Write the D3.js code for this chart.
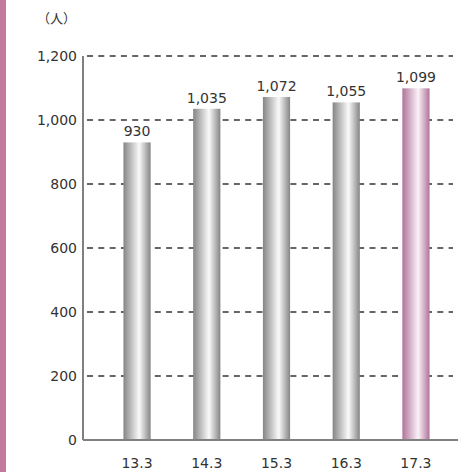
<!DOCTYPE html>
<html>
<head>
<meta charset="utf-8">
<script src="https://cdn.jsdelivr.net/npm/d3@7"></script>
<style>
  body { margin: 0; background: #fff; }
  svg text { font-family: "DejaVu Sans", sans-serif; fill: #333; }
</style>
</head>
<body>
<div class="canvas"></div>
<script>
const categories = ['13.3', '14.3', '15.3', '16.3', '17.3']
const values = [930, 1035, 1072, 1055, 1099]
const yTicks = [0, 200, 400, 600, 800, 1000, 1200]
const unitLabel = '（人）'

const svg = d3.select('.canvas')
  .append('svg')
    .attr('width', 458)
    .attr('height', 472)

// pink stripe on the left
svg.append('rect')
  .attr('x', 0).attr('y', 0)
  .attr('width', 6).attr('height', 472)
  .attr('fill', '#c47a9c')

const margin = { top: 56, right: 0, bottom: 32, left: 83 }
const graphHeight = 472 - margin.top - margin.bottom

const graph = svg.append('g')
  .attr('transform', `translate(${margin.left},${margin.top})`)

const y = d3.scaleLinear()
  .domain([0, 1200])
  .range([graphHeight, 0])

const x = d3.scaleBand()
  .domain(categories)
  .range([0, 387])
  .paddingInner(0.61)
  .paddingOuter(0.58)

// gradients
const defs = svg.append('defs')
const makeGrad = (id, edge, mid) => {
  const g = defs.append('linearGradient').attr('id', id)
    .attr('x1', '0%').attr('x2', '100%')
  g.append('stop').attr('offset', '0%').attr('stop-color', edge)
  g.append('stop').attr('offset', '58%').attr('stop-color', mid)
  g.append('stop').attr('offset', '100%').attr('stop-color', edge)
}
makeGrad('grayGrad', '#858585', '#fafafa')
makeGrad('pinkGrad', '#b0739a', '#faf2f7')

// dashed gridlines
graph.selectAll('line.grid')
  .data(yTicks.filter(d => d > 0))
  .enter()
  .append('line')
    .attr('class', 'grid')
    .attr('x1', 4)
    .attr('x2', 370)
    .attr('y1', d => y(d))
    .attr('y2', d => y(d))
    .attr('stroke', '#3a3030')
    .attr('stroke-width', 1.3)
    .attr('stroke-dasharray', '6,5.3')

// bars
graph.selectAll('rect.bar')
  .data(values)
  .enter()
  .append('rect')
    .attr('class', 'bar')
    .attr('x', (d, i) => x(categories[i]))
    .attr('y', d => y(d))
    .attr('width', x.bandwidth())
    .attr('height', d => graphHeight - y(d))
    .attr('fill', (d, i) => i === values.length - 1 ? 'url(#pinkGrad)' : 'url(#grayGrad)')

// value labels
graph.selectAll('text.val')
  .data(values)
  .enter()
  .append('text')
    .attr('class', 'val')
    .attr('x', (d, i) => x(categories[i]) + x.bandwidth() / 2)
    .attr('y', d => y(d) - 6)
    .attr('text-anchor', 'middle')
    .attr('font-size', 14)
    .text(d => d3.format(',')(d))

// axes lines
graph.append('line')
  .attr('x1', 0).attr('x2', 0)
  .attr('y1', 0).attr('y2', graphHeight)
  .attr('stroke', '#808080').attr('stroke-width', 2)
graph.append('line')
  .attr('x1', 0).attr('x2', 375)
  .attr('y1', graphHeight).attr('y2', graphHeight)
  .attr('stroke', '#808080').attr('stroke-width', 2)

// y tick labels
graph.selectAll('text.ytick')
  .data(yTicks)
  .enter()
  .append('text')
    .attr('class', 'ytick')
    .attr('x', -6)
    .attr('y', d => y(d))
    .attr('dy', '0.35em')
    .attr('text-anchor', 'end')
    .attr('font-size', 14)
    .text(d => d3.format(',')(d))

// x labels
graph.selectAll('text.xtick')
  .data(categories)
  .enter()
  .append('text')
    .attr('class', 'xtick')
    .attr('x', d => x(d) + x.bandwidth() / 2)
    .attr('y', graphHeight + 28)
    .attr('text-anchor', 'middle')
    .attr('font-size', 14)
    .text(d => d)

svg.append('text')
  .attr('x', 37)
  .attr('y', 23)
  .attr('font-size', 13)
  .style('font-family', '"Noto Sans CJK JP", sans-serif')
  .text(unitLabel)
</script>
</body>
</html>
